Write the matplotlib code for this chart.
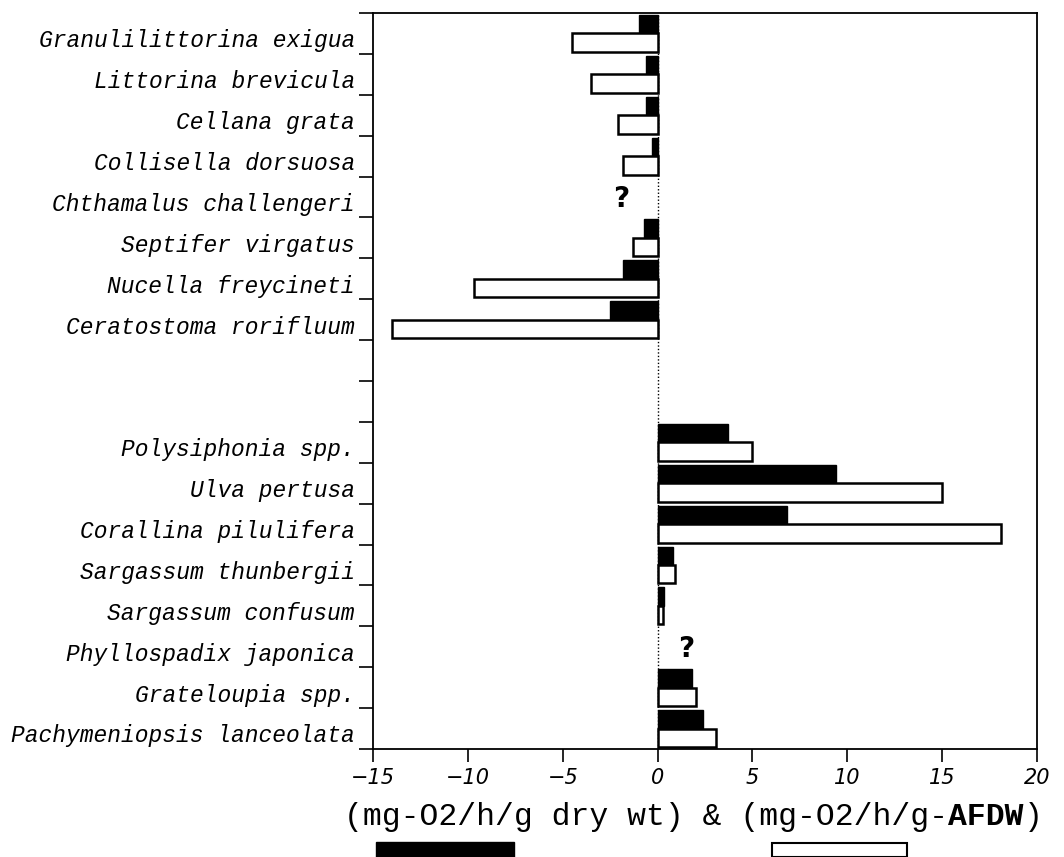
import matplotlib
matplotlib.use('Agg')

import matplotlib.pyplot as plt
from matplotlib.patches import Rectangle
import numpy as np

# animals (top group) and plants (bottom group)
animals = ["Granulilittorina exigua", "Littorina brevicula", "Cellana grata",
           "Collisella dorsuosa", "Chthamalus challengeri", "Septifer virgatus",
           "Nucella freycineti", "Ceratostoma rorifluum"]
animals_dry = [-1.0, -0.6, -0.6, -0.3, None, -0.7, -1.8, -2.5]
animals_afdw = [-4.5, -3.5, -2.1, -1.8, None, -1.3, -9.7, -14.0]

plants = ["Polysiphonia spp.", "Ulva pertusa", "Corallina pilulifera",
          "Sargassum thunbergii", "Sargassum confusum", "Phyllospadix japonica",
          "Grateloupia spp.", "Pachymeniopsis lanceolata"]
plants_dry = [3.7, 9.4, 6.8, 0.8, 0.35, None, 1.8, 2.4]
plants_afdw = [5.0, 15.0, 18.1, 0.9, 0.3, None, 2.0, 3.1]

xticks = [-15, -10, -5, 0, 5, 10, 15, 20]

labels = animals + plants
dry = animals_dry + plants_dry
afdw = animals_afdw + plants_afdw
# slot index of each species (two empty slots between the groups)
slots = list(range(8)) + list(range(10, 18))

fig = plt.figure(figsize=(10.64, 8.57), dpi=100)
ax = fig.add_axes([373/1064, 1-749/857, (1037-373)/1064, (749-13)/857])

ax.axvline(0, color='black', lw=1, ls=(0, (1, 1.5)), zorder=1)

for s, d, a in zip(slots, dry, afdw):
    if d is None:
        # no data -> question mark
        ax.text(-1.9 if s < 9 else 1.5, s + 0.55, "?", ha='center', va='center',
                fontsize=20, fontweight='bold', family='DejaVu Sans')
        continue
    ax.barh(s + 0.05, d, height=0.45, align='edge', color='black',
            edgecolor='black', lw=1, zorder=2)
    ax.barh(s + 0.5, a, height=0.45, align='edge', color='white',
            edgecolor='black', lw=1.8, zorder=2)

ax.set_xlim(-15, 20)
ax.set_ylim(18, 0)

ax.set_xticks(xticks)
ax.set_xticklabels([str(t).replace('-', '\u2212') for t in xticks],
                   fontstyle='italic', family='DejaVu Sans', fontsize=15)
ax.tick_params(axis='x', direction='out', length=9, width=1.2, pad=5)

ax.set_yticks(np.arange(0, 19))
ax.set_yticklabels([])
ax.tick_params(axis='y', which='major', direction='out', length=10, width=1.2)
ax.set_yticks([s + 0.62 for s in slots], minor=True)
ax.set_yticklabels(labels, minor=True, family='Liberation Mono',
                   fontstyle='italic', fontsize=16.5)
ax.tick_params(axis='y', which='minor', length=0, pad=13)

for sp in ax.spines.values():
    sp.set_linewidth(1.3)

# axis label with bold AFDW
fs = 22.6
t1 = fig.text(344/1064, 1-817/857, "(mg-O2/h/g dry wt) & (mg-O2/h/g-",
              family='Liberation Mono', fontsize=fs, va='center')
t2 = ax.annotate("AFDW", xy=(1, 0.5), xycoords=t1, va='center', ha='left',
                 family='Liberation Mono', fontsize=fs, fontweight='bold')
ax.annotate(")", xy=(1, 0.5), xycoords=t2, va='center', ha='left',
            family='Liberation Mono', fontsize=fs)

# legend bars under the label
fig.patches.append(Rectangle((376/1064, 0), (514-376)/1064, 15/857,
                             transform=fig.transFigure, facecolor='black',
                             edgecolor='black', lw=1))
fig.patches.append(Rectangle((772/1064, 0.5/857), (907-772)/1064, 14/857,
                             transform=fig.transFigure, facecolor='white',
                             edgecolor='black', lw=1.5))

fig.savefig('out.png', dpi=100)
